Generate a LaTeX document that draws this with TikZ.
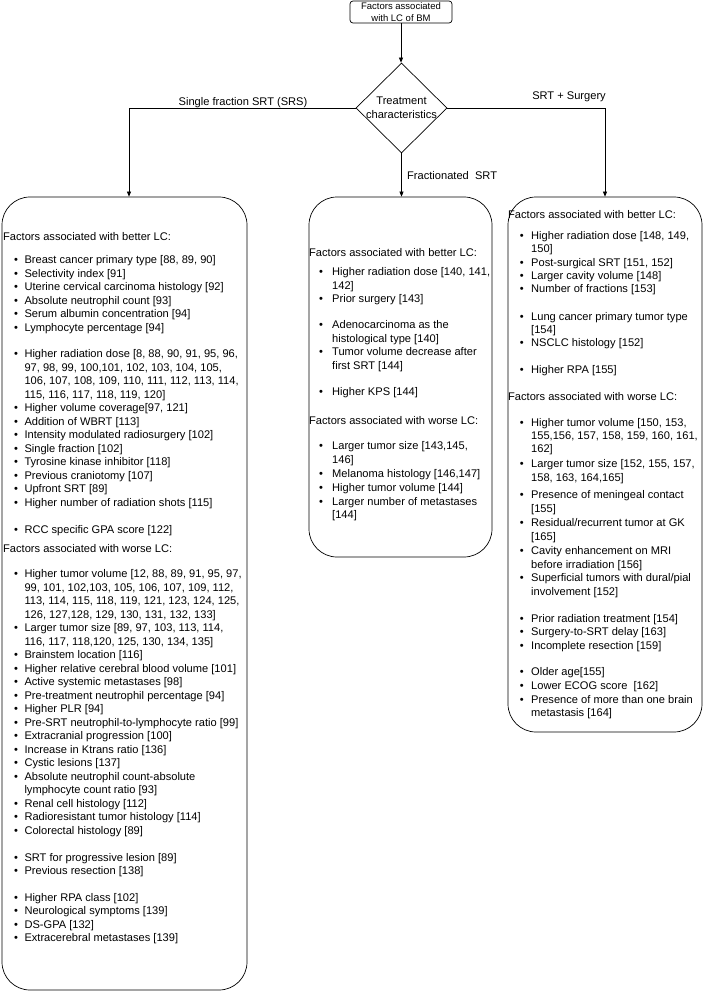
\documentclass[tikz,border=0pt]{standalone}
\usepackage{fontspec}
\setmainfont{Liberation Sans}
\usetikzlibrary{shapes.geometric,arrows.meta}
\newcounter{lnno}
\newcommand{\hdr}[2]{\stepcounter{lnno}\node[txt] (l\arabic{lnno}) at (\hx,#1) {#2};}
\newcommand{\itm}[2]{\stepcounter{lnno}\node[txt] (k\arabic{lnno}) at (\bx,#1) {\textbullet};\node[txt] (l\arabic{lnno}) at (\tx,#1) {#2};}
\newcommand{\cnt}[2]{\stepcounter{lnno}\node[txt] (l\arabic{lnno}) at (\tx,#1) {#2};}
\tikzset{
  txt/.style={anchor=base west, inner sep=0pt, font=\fontsize{11.1}{13.5}\selectfont},
  lbl/.style={inner sep=0pt, font=\fontsize{11.1}{13.5}\selectfont},
  catbox/.style={draw, line width=0.7pt, rounded corners=28pt, inner sep=0pt},
  conn/.style={line width=0.7pt, -{Triangle[length=5pt,width=4pt]}},
  plainline/.style={line width=0.7pt}
}
\begin{document}
\begin{tikzpicture}[x=1pt,y=-1pt]
\useasboundingbox (0,0) rectangle (705,992);
% top box
\node[draw, line width=0.7pt, rounded corners=3pt, align=center, inner sep=0pt,
      minimum width=102pt, minimum height=22pt,
      font=\fontsize{9.5}{11.5}\selectfont] (T) at (401,12) {Factors associated\\with LC of BM};
% diamond
\node[diamond, draw, line width=0.7pt, minimum width=91pt, minimum height=90pt, inner sep=0pt] (D) at (401.5,108) {};
\node[lbl, align=center, font=\fontsize{11.1}{14}\selectfont] (Dt) at (D.center) {Treatment\\characteristics};
% category boxes
\node[catbox, minimum width=245pt, minimum height=793pt] (L) at (124.5,593.5) {};
\node[catbox, minimum width=183pt, minimum height=360pt] (M) at (400.5,377) {};
\node[catbox, minimum width=194pt, minimum height=535pt] (R) at (605,464.5) {};
\coordinate (jl) at (129,108);
\coordinate (jr) at (605,108);
% connectors
\draw[conn] (T.south) -- (T.south |- D.north);
\draw[conn] (D.west) -- (jl) -- (jl |- L.north);
\draw[conn] (D.east) -- (jr) -- (jr |- R.north);
\draw[conn] (D.south) -- (D.south |- M.north);
% branch labels
\node[lbl, anchor=base] (s1) at (243,105.5) {Single fraction SRT (SRS)};
\node[lbl, anchor=base] (s2) at (569,100) {SRT + Surgery};
\node[lbl, anchor=base west] (s3) at (407,180) {Fractionated\ \ SRT};
% ---------- left box ----------
\def\hx{3}\def\bx{13.8}\def\tx{24.3}
\hdr{240.5}{Factors associated with better LC:}
\itm{263.5}{Breast cancer primary type [88, 89, 90]}
\itm{277}{Selectivity index [91]}
\itm{290.5}{Uterine cervical carcinoma histology [92]}
\itm{304}{Absolute neutrophil count [93]}
\itm{317.5}{Serum albumin concentration [94]}
\itm{331}{Lymphocyte percentage [94]}
\itm{357.5}{Higher radiation dose [8, 88, 90, 91, 95, 96,}
\cnt{371}{97, 98, 99, 100,101, 102, 103, 104, 105,}
\cnt{384.5}{106, 107, 108, 109, 110, 111, 112, 113, 114,}
\cnt{398}{115, 116, 117, 118, 119, 120]}
\itm{411.5}{Higher volume coverage[97, 121]}
\itm{425}{Addition of WBRT [113]}
\itm{438.5}{Intensity modulated radiosurgery [102]}
\itm{452}{Single fraction [102]}
\itm{465.5}{Tyrosine kinase inhibitor [118]}
\itm{479}{Previous craniotomy [107]}
\itm{492.5}{Upfront SRT [89]}
\itm{506}{Higher number of radiation shots [115]}
\itm{533}{RCC specific GPA score [122]}
\hdr{552}{Factors associated with worse LC:}
\itm{577.5}{Higher tumor volume [12, 88, 89, 91, 95, 97,}
\cnt{591}{99, 101, 102,103, 105, 106, 107, 109, 112,}
\cnt{604.5}{113, 114, 115, 118, 119, 121, 123, 124, 125,}
\cnt{618}{126, 127,128, 129, 130, 131, 132, 133]}
\itm{631.5}{Larger tumor size [89, 97, 103, 113, 114,}
\cnt{645}{116, 117, 118,120, 125, 130, 134, 135]}
\itm{658.5}{Brainstem location [116]}
\itm{672}{Higher relative cerebral blood volume [101]}
\itm{685.5}{Active systemic metastases [98]}
\itm{699}{Pre-treatment neutrophil percentage [94]}
\itm{712.5}{Higher PLR [94]}
\itm{726}{Pre-SRT neutrophil-to-lymphocyte ratio [99]}
\itm{739.5}{Extracranial progression [100]}
\itm{753}{Increase in Ktrans ratio [136]}
\itm{766.5}{Cystic lesions [137]}
\itm{780}{Absolute neutrophil count-absolute}
\cnt{793.5}{lymphocyte count ratio [93]}
\itm{807}{Renal cell histology [112]}
\itm{820.5}{Radioresistant tumor histology [114]}
\itm{834}{Colorectal histology [89]}
\itm{861}{SRT for progressive lesion [89]}
\itm{874.5}{Previous resection [138]}
\itm{901}{Higher RPA class [102]}
\itm{914.5}{Neurological symptoms [139]}
\itm{928}{DS-GPA [132]}
\itm{941.5}{Extracerebral metastases [139]}
% ---------- middle box ----------
\def\hx{309}\def\bx{318.8}\def\tx{332}
\hdr{256.5}{Factors associated with better LC:}
\itm{275.5}{Higher radiation dose [140, 141,}
\cnt{289}{142]}
\itm{302.5}{Prior surgery [143]}
\itm{328.5}{Adenocarcinoma as the}
\cnt{342}{histological type [140]}
\itm{355.5}{Tumor volume decrease after}
\cnt{369}{first SRT [144]}
\itm{395.5}{Higher KPS [144]}
\hdr{424.5}{Factors associated with worse LC:}
\itm{449.5}{Larger tumor size [143,145,}
\cnt{463}{146]}
\itm{477}{Melanoma histology [146,147]}
\itm{491}{Higher tumor volume [144]}
\itm{505}{Larger number of metastases}
\cnt{518.5}{[144]}
% ---------- right box ----------
\def\hx{508}\def\bx{519.7}\def\tx{531}
\hdr{218.5}{Factors associated with better LC:}
\itm{239.5}{Higher radiation dose [148, 149,}
\cnt{252.5}{150]}
\itm{266.5}{Post-surgical SRT [151, 152]}
\itm{279.5}{Larger cavity volume [148]}
\itm{292.5}{Number of fractions [153]}
\itm{320.5}{Lung cancer primary tumor type}
\cnt{333.5}{[154]}
\itm{346.5}{NSCLC histology [152]}
\itm{373.5}{Higher RPA [155]}
\hdr{400.5}{Factors associated with worse LC:}
\itm{426.5}{Higher tumor volume [150, 153,}
\cnt{439.5}{155,156, 157, 158, 159, 160, 161,}
\cnt{452.5}{162]}
\itm{467.5}{Larger tumor size [152, 155, 157,}
\cnt{481.5}{158, 163, 164,165]}
\itm{498.5}{Presence of meningeal contact}
\cnt{512.5}{[155]}
\itm{526.5}{Residual/recurrent tumor at GK}
\cnt{540.5}{[165]}
\itm{554.5}{Cavity enhancement on MRI}
\cnt{568}{before irradiation [156]}
\itm{581.5}{Superficial tumors with dural/pial}
\cnt{595}{involvement [152]}
\itm{622}{Prior radiation treatment [154]}
\itm{635.5}{Surgery-to-SRT delay [163]}
\itm{649}{Incomplete resection [159]}
\itm{675.5}{Older age[155]}
\itm{689.5}{Lower ECOG score\ \ [162]}
\itm{703}{Presence of more than one brain}
\cnt{716.5}{metastasis [164]}
\end{tikzpicture}
\end{document}
